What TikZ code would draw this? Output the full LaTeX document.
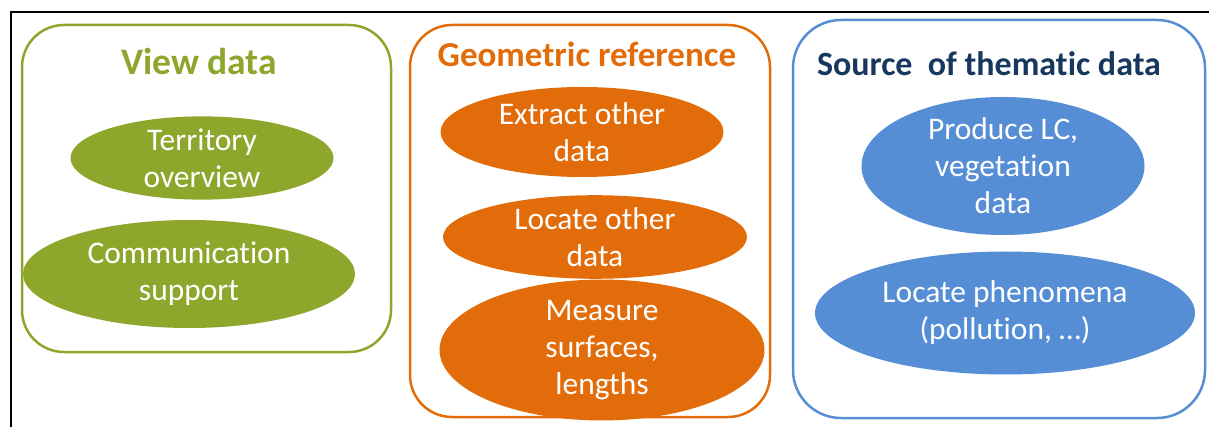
\documentclass[tikz,border=0pt]{standalone}
\usepackage{fontspec}
\setmainfont{Carlito}[Ligatures=NoCommon]
\usetikzlibrary{shapes.geometric}

\definecolor{viewgreen}{HTML}{8DA62B}
\definecolor{georange}{HTML}{E36C0A}
\definecolor{themeblue}{HTML}{558ED5}
\definecolor{titleblue}{HTML}{17375E}

\def \boxline {2.5pt}
\def \boxradius {42pt}

\tikzset{
  groupbox/.style={draw=#1, line width=\boxline, rounded corners=\boxradius, inner sep=0pt},
  grouptitle/.style={text=#1, font=\bfseries\fontsize{34}{38}\selectfont, inner sep=0pt},
  usecase/.style={ellipse, fill=#1, text=white, inner sep=0pt, align=center,
    font=\fontsize{31.5}{37}\selectfont}
}

\begin{document}
\begin{tikzpicture}[x=1pt, y=-1pt]
\useasboundingbox (0,0) rectangle (1209,427);
\draw[line width=2pt] (1209,12.5) -- (10.5,12.5) -- (10.5,427);

% view data
\node[groupbox=viewgreen, minimum width=369pt, minimum height=327pt] (view) at (206.5,188.5) {};
\node[grouptitle=viewgreen, font=\bfseries\fontsize{37.5}{40}\selectfont] (viewtitle) at (199,61) {View data};
\node[usecase=viewgreen, minimum width=263pt, minimum height=80pt] (territory) at (202,158) {Territory\\overview};
\node[usecase=viewgreen, minimum width=332pt, minimum height=108pt] (communication) at (189,274) {Communication\\support};

% geometric reference
\node[groupbox=georange, minimum width=360pt, minimum height=392pt] (geo) at (590,221) {};
\node[grouptitle=georange, font=\bfseries\fontsize{35}{38}\selectfont] (geotitle) at (587,54) {Geometric reference};
\node[usecase=georange, minimum width=283pt, minimum height=90pt] (extract) at (582,132) {Extract other\\data};
\node[usecase=georange, minimum width=304pt, minimum height=81pt] (locate) at (595,237) {Locate other\\data};
\node[usecase=georange, minimum width=325pt, minimum height=104pt] (measure) at (602,350) {Measure\\surfaces,\\lengths};

% source of thematic data
\node[groupbox=themeblue, minimum width=412pt, minimum height=398pt, rounded corners=48pt] (theme) at (999,219) {};
\node[grouptitle=titleblue] (themetitle) at (989,64) {Source~~of thematic data};
\node[usecase=themeblue, minimum width=283pt, minimum height=138pt] (produce) at (1003,166) {Produce LC,\\vegetation\\data};
\node[usecase=themeblue, minimum width=380pt, minimum height=123pt] (phenomena) at (1005,313) {Locate phenomena\\(pollution, \dots)};
\end{tikzpicture}
\end{document}
